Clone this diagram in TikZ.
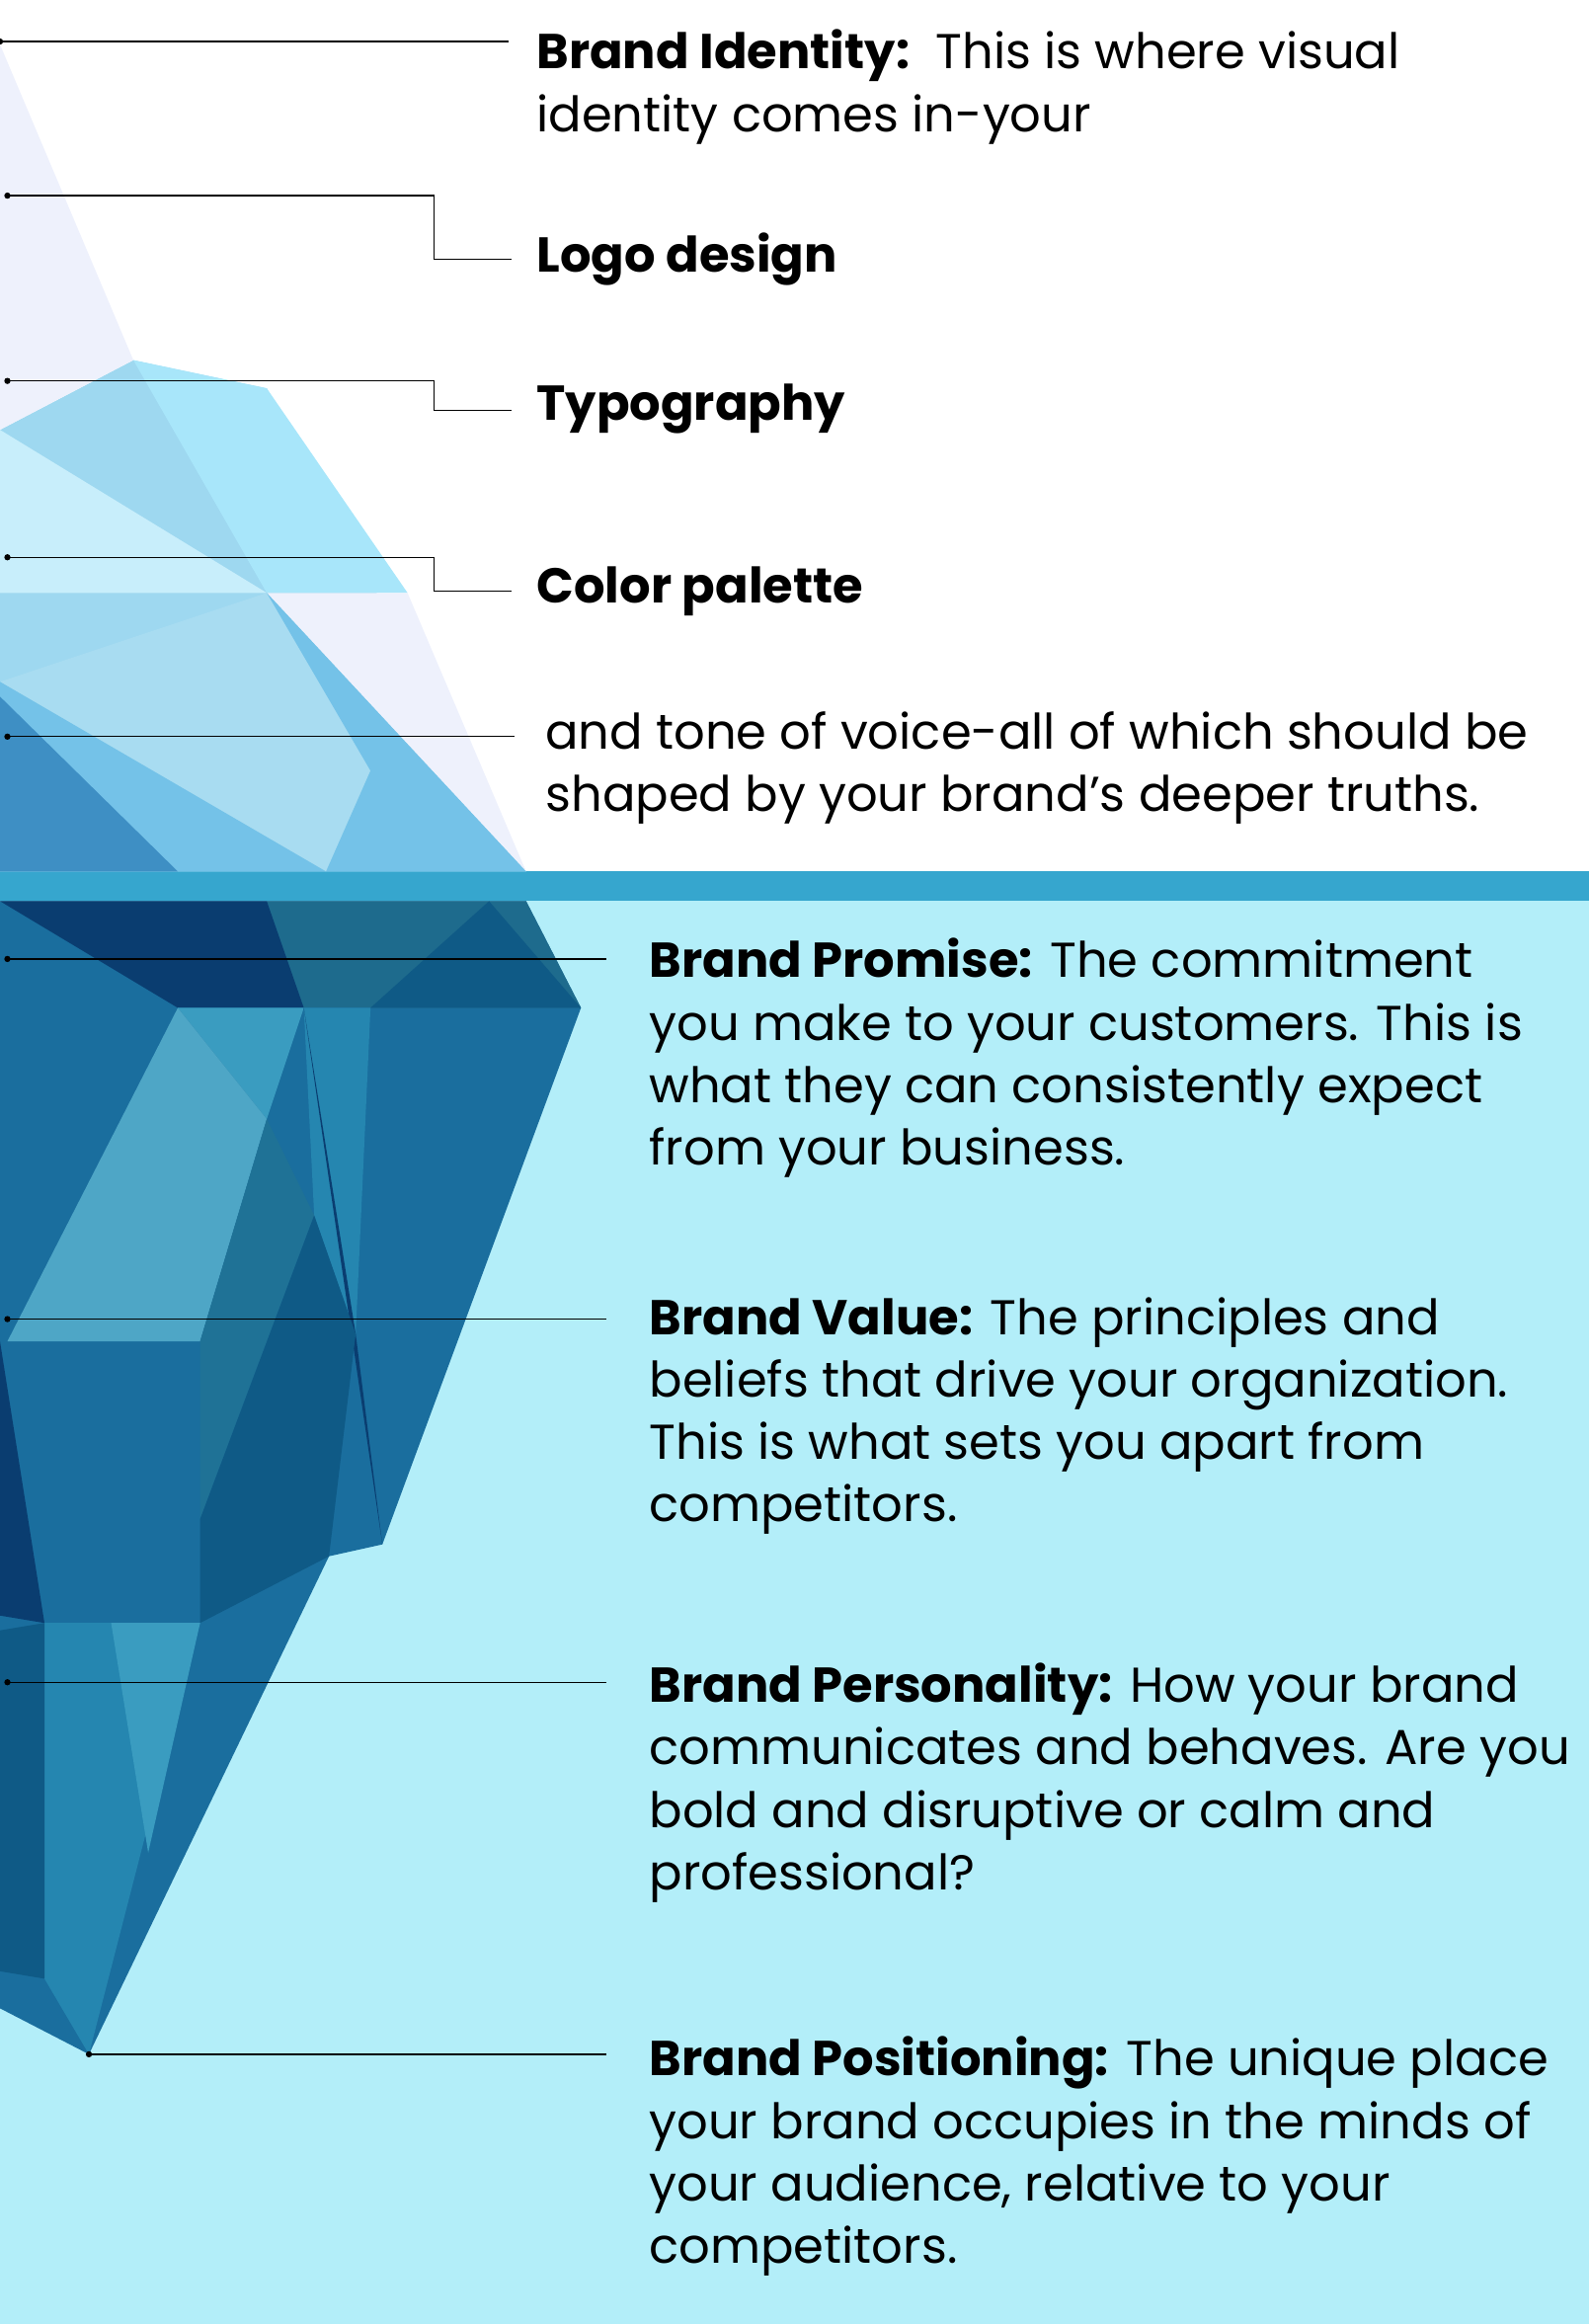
\documentclass[tikz,border=0pt]{standalone}
\usepackage{fontspec}
\setmainfont{Poppins}
\usetikzlibrary{positioning}
\definecolor{water}{HTML}{B3EEF9}
\definecolor{band}{HTML}{36A6CE}
\definecolor{lav}{HTML}{EEF1FC}
\definecolor{iceA}{HTML}{9ED8F0}
\definecolor{iceB}{HTML}{A8E6FA}
\definecolor{iceC}{HTML}{C8EEFB}
\definecolor{iceD}{HTML}{74C2E8}
\definecolor{iceE}{HTML}{3E8FC4}
\definecolor{deepA}{HTML}{1A6E9E}
\definecolor{deepB}{HTML}{0A3D70}
\definecolor{deepC}{HTML}{3A9CC0}
\definecolor{deepD}{HTML}{0F5A86}
\definecolor{deepE}{HTML}{2586B0}
\tikzset{
  lead/.style={draw=black, line width=1.2pt},
  dot/.style={circle, fill=black, inner sep=0pt, minimum size=6pt},
  label/.style={anchor=north west, align=left, inner sep=0pt,
    font=\fontsize{47}{60}\selectfont},
}
\begin{document}
\begin{tikzpicture}[x=0.05cm, y=-0.05cm]
  \useasboundingbox (0,0) rectangle (1072,1568);
  % water
  \fill[water] (0,588) rectangle (1072,1568);
  \fill[band] (0,588) rectangle (1072,608);
  % iceberg above water
  \fill[iceA] (0,290) -- (90,243) -- (180,262) -- (355,588) -- (0,588) -- cycle;
  \fill[lav] (0,30) -- (90,243) -- (0,290) -- cycle;
  \fill[iceB] (90,243) -- (180,262) -- (275,400) -- (180,400) -- cycle;
  \fill[iceC] (0,290) -- (180,400) -- (0,400) -- cycle;
  \fill[lav] (180,400) -- (275,400) -- (355,588) -- cycle;
  \fill[iceA!90!white] (0,460) -- (180,400) -- (250,520) -- (220,588) -- cycle;
  \fill[iceD] (0,460) -- (220,588) -- (0,588) -- cycle;
  \fill[iceD] (180,400) -- (355,588) -- (220,588) -- (250,520) -- cycle;
  \fill[iceE] (0,470) -- (120,588) -- (0,588) -- cycle;
  % iceberg under water
  \fill[deepA] (0,608) -- (355,608) -- (392,680) -- (258,1042) -- (222,1050)
    -- (60,1386) -- (0,1355) -- cycle;
  \fill[deepE!80!black] (180,608) -- (355,608) -- (392,680) -- (205,680) -- cycle;
  \fill[deepB] (0,608) -- (180,608) -- (205,680) -- (120,680) -- cycle;
  \fill[deepD] (330,608) -- (392,680) -- (250,680) -- cycle;
  \fill[deepC] (120,680) -- (205,680) -- (180,755) -- cycle;
  \fill[deepC!90!white] (120,680) -- (180,755) -- (135,905) -- (5,905) -- cycle;
  \fill[deepE] (205,680) -- (250,680) -- (240,900) -- (212,820) -- cycle;
  \fill[deepB] (205,680) -- (258,1042) -- (240,900) -- cycle;
  \fill[deepE!85!black] (180,755) -- (212,820) -- (135,1025) -- (135,905) -- cycle;
  \fill[deepD] (212,820) -- (240,900) -- (222,1050) -- (135,1095) -- (135,1025) -- cycle;
  \fill[deepB] (0,905) -- (30,1095) -- (0,1090) -- cycle;
  \fill[deepE] (30,1095) -- (135,1095) -- (60,1386) -- (30,1335) -- cycle;
  \fill[deepC] (75,1095) -- (135,1095) -- (100,1250) -- cycle;
  \fill[deepD] (0,1100) -- (30,1095) -- (30,1335) -- (0,1330) -- cycle;
  % leader lines
  \node[dot] (d1) at (0,28) {};
  \node[dot] (d2) at (5,132) {};
  \node[dot] (d3) at (5,257) {};
  \node[dot] (d4) at (5,376) {};
  \node[dot] (d5) at (5,497) {};
  \node[dot] (d6) at (5,647) {};
  \node[dot] (d7) at (5,890) {};
  \node[dot] (d8) at (5,1135) {};
  \node[dot] (d9) at (60,1386) {};
  \coordinate (e1) at (343,28);
  \coordinate (e2) at (345,175);
  \coordinate (e3) at (345,277);
  \coordinate (e4) at (345,399);
  \coordinate (e5) at (347,497);
  \coordinate (e6) at (409,647);
  \coordinate (e7) at (409,890);
  \coordinate (e8) at (409,1135);
  \coordinate (e9) at (409,1386);
  \draw[lead] (d1.center) -- (e1);
  \draw[lead] (d2.center) -- (293,132) |- (e2);
  \draw[lead] (d3.center) -- (293,257) |- (e3);
  \draw[lead] (d4.center) -- (293,376) |- (e4);
  \draw[lead] (d5.center) -- (e5);
  \draw[lead] (d6.center) -- (e6);
  \draw[lead] (d7.center) -- (e7);
  \draw[lead] (d8.center) -- (e8);
  \draw[lead] (d9.center) -- (e9);
  % texts
  \node[label] (identity) at (362,20) {\textbf{Brand Identity:}\ \ This is where visual\\identity comes in-your};
  \node[label] (logo) at (362,157) {\textbf{Logo design}};
  \node[label] (typo) at (362,259) {\textbf{Typography}};
  \node[label] (color) at (362,382) {\textbf{Color palette}};
  \node[label] (tone) at (368,480) {and tone of voice-all of which should be\\shaped by your brand’s deeper truths.};
  \node[label] (promise) at (438,633) {\textbf{Brand Promise:} The commitment\\you make to your customers. This is\\what they can consistently expect\\from your business.};
  \node[label] (value) at (438,875) {\textbf{Brand Value:} The principles and\\beliefs that drive your organization.\\This is what sets you apart from\\competitors.};
  \node[label] (personality) at (438,1122) {\textbf{Brand Personality:} How your brand\\communicates and behaves. Are you\\bold and disruptive or calm and\\professional?};
  \node[label] (positioning) at (438,1374) {\textbf{Brand Positioning:} The unique place\\your brand occupies in the minds of\\your audience, relative to your\\competitors.};
\end{tikzpicture}
\end{document}
